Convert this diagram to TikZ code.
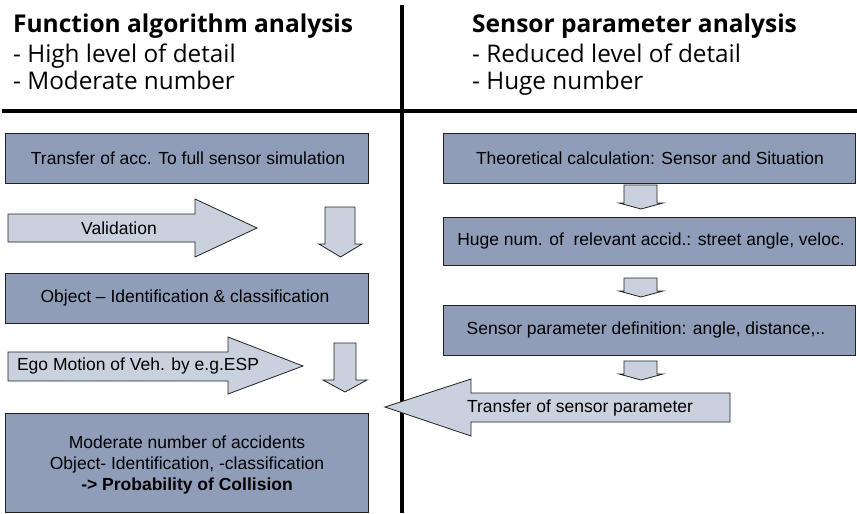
\documentclass[tikz,border=0pt]{standalone}
\usepackage{fontspec}
\setmainfont{Liberation Sans}
\newfontfamily\headfont{Open Sans}
\definecolor{boxc}{HTML}{8F9DB9}
\definecolor{arrc}{HTML}{C9D1DF}
\definecolor{edgec}{HTML}{222222}
\begin{document}
\begin{tikzpicture}[x=1pt,y=-1pt,
  box/.style={draw=edgec, line width=0.9pt, fill=boxc},
  blockarrow/.style={draw=edgec, line width=0.8pt, fill=arrc},
  btext/.style={font=\fontsize{17.5}{21}\selectfont, inner sep=0pt},
  htitle/.style={font=\headfont\bfseries\fontsize{24.5}{28}\selectfont, anchor=base west, inner sep=0pt},
  hline/.style={font=\headfont\fontsize{24.3}{28}\selectfont, anchor=base west, inner sep=0pt},
  rule/.style={line width=3.2pt, black}]
\useasboundingbox (0,0) rectangle (857,514);
% dividers
\coordinate (vtop) at (402,5);
\coordinate (vbot) at (402,513);
\coordinate (hl) at (2,111);
\coordinate (hr) at (857,111);
\draw[rule] (vtop) -- (vbot);
\draw[rule] (hl) -- (hr);
% headers
\node[htitle] (h1) at (13,32) {Function algorithm analysis};
\node[hline] (h1a) at (13,62) {- High level of detail};
\node[hline] (h1b) at (13,89) {- Moderate number};
\node[htitle] (h2) at (472,32) {Sensor parameter analysis};
\node[hline] (h2a) at (472,62) {- Reduced level of detail};
\node[hline] (h2b) at (472,89) {- Huge number};
% left boxes
\draw[box] (5,133) rectangle (368,183);
\node[btext] (l1) at (188,158) {Transfer of acc. To full sensor simulation};
\draw[box] (5,273) rectangle (368,323);
\node[btext] (l2) at (185,298) {Object -- Identification \& classification};
\draw[box] (5,413) rectangle (368,512);
\node[btext, align=center, anchor=base] (l3) at (187,490) {Moderate number of accidents\\Object- Identification, -classification\\\textbf{-> Probability of Collision}};
% left arrows
\draw[blockarrow] (8,214) -- (195,214) -- (195,199) -- (257,228) -- (195,257) -- (195,242) -- (8,242) -- cycle;
\node[btext] (val) at (119,228) {Validation};
\draw[blockarrow] (325,207) -- (355,207) -- (355,244) -- (362,244) -- (340.5,257) -- (319,244) -- (325,244) -- cycle;
\draw[blockarrow] (8,352) -- (228,352) -- (228,337) -- (303,366) -- (228,394) -- (228,381) -- (8,381) -- cycle;
\node[btext] (ego) at (138,366) {Ego Motion of Veh. by e.g.ESP};
\draw[blockarrow] (334,343) -- (356,343) -- (356,380) -- (367,380) -- (345,392) -- (323,380) -- (334,380) -- cycle;
% right boxes
\draw[box] (443,133) rectangle (855,183);
\node[btext] (r1) at (650,158) {Theoretical calculation: Sensor and Situation};
\draw[box] (443,217) rectangle (855,265);
\node[btext] (r2) at (651,241) {Huge num. of\ \ relevant accid.: street angle, veloc.};
\draw[box] (443,305) rectangle (855,355);
\node[btext] (r3) at (646,330) {Sensor parameter definition: angle, distance,..};
% right small arrows
\draw[blockarrow] (624,185) -- (657,185) -- (657,203) -- (663,203) -- (641,209) -- (619,203) -- (624,203) -- cycle;
\draw[blockarrow] (624,278) -- (657,278) -- (657,291) -- (663,291) -- (641,297) -- (619,291) -- (624,291) -- cycle;
\draw[blockarrow] (624,361) -- (657,361) -- (657,374) -- (663,374) -- (641,380) -- (619,374) -- (624,374) -- cycle;
% transfer arrow
\draw[blockarrow] (730,393) -- (471,393) -- (471,379) -- (385,407) -- (471,436) -- (471,422) -- (730,422) -- cycle;
\node[btext] (tr) at (580,408) {Transfer of sensor parameter};
\end{tikzpicture}
\end{document}
